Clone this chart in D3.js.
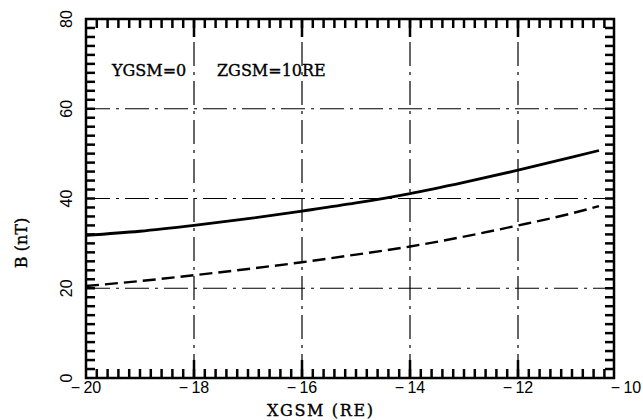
<!DOCTYPE html>
<html>
<head>
<meta charset="utf-8">
<script src="https://cdn.jsdelivr.net/npm/d3@7"></script>
<style>
  html,body{margin:0;padding:0;background:#fff;}
  svg{display:block;}
  .serif{font-family:"DejaVu Serif",serif;font-size:16px;stroke:#000;stroke-width:0.35px;}
  .num{font-family:"Liberation Sans",Arial,sans-serif;font-size:16px;}
</style>
</head>
<body>
<svg width="643" height="420"></svg>
<script>
// ===== DATA =====
const xgsm = [-20, -19, -18, -17, -16, -15, -14, -13, -12, -11, -10.5]
const bSolid = [31.8, 32.7, 34.0, 35.5, 37.2, 39.0, 41.1, 43.6, 46.3, 49.2, 50.7]
const bDashed = [20.5, 21.6, 22.9, 24.3, 25.8, 27.5, 29.3, 31.5, 34.0, 36.7, 38.3]
const xTickLabels = [-20, -18, -16, -14, -12, -10]
const yTickLabels = [0, 20, 40, 60, 80]
const xGrid = [-18, -16, -14, -12]
const yGrid = [20, 40, 60]

const svg = d3.select("svg")

// ===== SCALES =====
const x = d3.scaleLinear().domain([-20,-10]).range([86,626])
const y = d3.scaleLinear().domain([0,80]).range([378,19])
const xEnd = x.invert(614)   // frame stops a bit short of -10

const frameL = x(-20), frameR = x(xEnd), frameT = y(80), frameB = y(0)

// ===== GRID =====
const grid = svg.append("g")
  .attr("stroke","#000")
  .attr("stroke-width",1.2)
  .attr("stroke-dasharray","24,6,3,6")

grid.selectAll("line.vg").data(xGrid).join("line")
  .attr("class","vg")
  .attr("x1",d=>x(d)).attr("x2",d=>x(d))
  .attr("y1",frameB).attr("y2",frameT)

grid.selectAll("line.hg").data(yGrid).join("line")
  .attr("class","hg")
  .attr("x1",frameL).attr("x2",frameR)
  .attr("y1",d=>y(d)).attr("y2",d=>y(d))

// ===== FRAME TICKS (inward) =====
const minorX = d3.range(1,49).map(i=>-20+i*0.2).filter(v=>v<xEnd)
const majorX = [-18,-16,-14,-12]
const minorY = d3.range(2,80,2)

const tickG = svg.append("g").attr("class","frame-ticks")

function addTicks(vals, pos, inward, horizontal){
  tickG.append("g").selectAll("line").data(vals).join("line")
    .attr("x1",d=>horizontal ? x(d) : pos)
    .attr("x2",d=>horizontal ? x(d) : pos+inward)
    .attr("y1",d=>horizontal ? pos : y(d))
    .attr("y2",d=>horizontal ? pos+inward : y(d))
    .attr("stroke","#000")
    .attr("stroke-width",2.5)
}

addTicks(minorX, frameB, -9, true)
addTicks(minorX, frameT, 9, true)
addTicks(majorX, frameB, -18, true)
addTicks(majorX, frameT, 18, true)
addTicks(minorY, frameL, 9, false)
addTicks(minorY, frameR, -9, false)

// ===== FRAME =====
svg.append("rect")
  .attr("x",frameL).attr("y",frameT)
  .attr("width",frameR-frameL).attr("height",frameB-frameT)
  .attr("fill","none").attr("stroke","#000").attr("stroke-width",2.5)

// ===== CURVES =====
const line = d3.line()
  .x((d,i)=>x(xgsm[i]))
  .y(d=>y(d))
  .curve(d3.curveMonotoneX)

svg.append("path")
  .datum(bSolid)
  .attr("fill","none").attr("stroke","#000").attr("stroke-width",2.8)
  .attr("d",line)

svg.append("path")
  .datum(bDashed)
  .attr("fill","none").attr("stroke","#000").attr("stroke-width",2.4)
  .attr("stroke-dasharray","13,6")
  .attr("d",line)

// ===== TICK LABELS =====
const fmt = v => v<0 ? "\u2212\u2009"+Math.abs(v) : ""+v

svg.selectAll("text.xl").data(xTickLabels).join("text")
  .attr("class","xl num")
  .attr("x",d=>x(d)).attr("y",393)
  .attr("text-anchor","middle")
  .text(fmt)

svg.selectAll("text.yl").data(yTickLabels).join("text")
  .attr("class","yl num")
  .attr("transform",d=>`translate(72,${y(d)}) rotate(-90)`)
  .attr("text-anchor","middle")
  .text(d=>d)

// ===== AXIS TITLES =====
svg.append("text")
  .attr("class","serif")
  .attr("x",267).attr("y",416)
  .attr("textLength",106).attr("lengthAdjust","spacing")
  .text("XGSM (RE)")

svg.append("text")
  .attr("class","serif")
  .attr("transform","translate(27,243) rotate(-90)")
  .attr("text-anchor","middle")
  .text("B (nT)")

// ===== ANNOTATION =====
svg.append("text")
  .attr("class","serif")
  .attr("x",112).attr("y",76)
  .text("YGSM=0")

svg.append("text")
  .attr("class","serif")
  .attr("x",217).attr("y",76)
  .text("ZGSM=10RE")
</script>
</body>
</html>
